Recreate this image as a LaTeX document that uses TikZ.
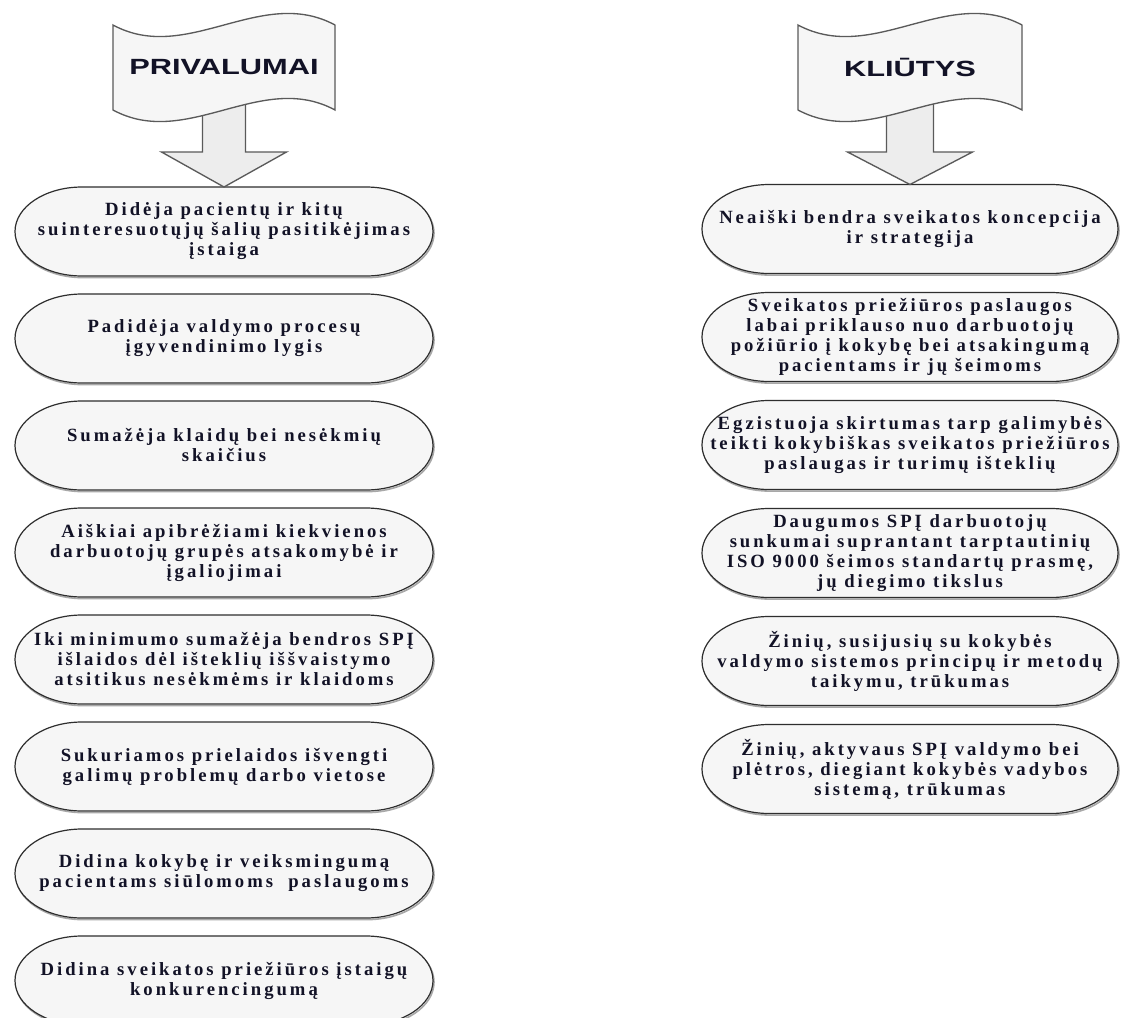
\documentclass[tikz,border=0pt]{standalone}
\usepackage{fontspec}
\setmainfont{Liberation Serif}
\newfontfamily\bodyfont{Liberation Serif}[LetterSpace=16]
\newfontfamily\headfont{Liberation Sans}
\usetikzlibrary{backgrounds}

\definecolor{boxfill}{HTML}{F6F6F6}
\definecolor{boxline}{HTML}{2E2E2E}
\definecolor{boxshade}{HTML}{A8A8A8}
\definecolor{arrowfill}{HTML}{EDEDED}
\definecolor{arrowline}{HTML}{5A5A5A}
\definecolor{inktext}{HTML}{121226}

\tikzset{
  item/.style={rectangle, inner sep=0pt, outer sep=0pt,
    minimum width=313.5pt, minimum height=66.75pt, align=center,
    font=\bodyfont\bfseries\fontsize{14}{15}\selectfont, text=inktext},
  itemr/.style={item, minimum width=312pt},
  termline/.style={draw=boxline, line width=0.9pt, fill=boxfill},
  termshade/.style={draw=boxshade, line width=1.2pt},
  banner/.style={draw=arrowline, line width=1pt, fill=boxfill},
  bigarrow/.style={draw=arrowline, line width=1pt, fill=arrowfill, line join=miter},
  headtext/.style={font=\headfont\bfseries\fontsize{16.5}{18}\selectfont, text=inktext},
}

% flowchart terminator outline around a named node
\newcommand{\terminator}[1]{%
  \draw[termshade] ([xshift=51pt,yshift=-1.2pt]#1.north west) -- ([xshift=-49.5pt,yshift=-1.2pt]#1.north east)
    arc[start angle=90, end angle=-90, x radius=50.25pt, y radius=33.375pt]
    -- ([xshift=51pt,yshift=-1.2pt]#1.south west)
    arc[start angle=270, end angle=90, x radius=50.25pt, y radius=33.375pt] -- cycle;
  \draw[termline] ([xshift=50.25pt]#1.north west) -- ([xshift=-50.25pt]#1.north east)
    arc[start angle=90, end angle=-90, x radius=50.25pt, y radius=33.375pt]
    -- ([xshift=50.25pt]#1.south west)
    arc[start angle=270, end angle=90, x radius=50.25pt, y radius=33.375pt] -- cycle;}

\begin{document}
\begin{tikzpicture}[x=0.75pt, y=-0.75pt]
  \useasboundingbox (0,0) rectangle (1129,1018);

  % ---- advantages column ----
  \node[item] (l1) at (224,231.5) {Didėja pacientų ir kitų\\suinteresuotųjų šalių pasitikėjimas\\įstaiga};
  \node[item] (l2) at (224,338.5) {Padidėja valdymo procesų\\įgyvendinimo lygis};
  \node[item] (l3) at (224,445.5) {Sumažėja klaidų bei nesėkmių\\skaičius};
  \node[item] (l4) at (224,552.5) {Aiškiai apibrėžiami kiekvienos\\darbuotojų grupės atsakomybė ir\\įgaliojimai};
  \node[item] (l5) at (224,659.5) {Iki minimumo sumažėja bendros SPĮ\\išlaidos dėl išteklių iššvaistymo\\atsitikus nesėkmėms ir klaidoms};
  \node[item] (l6) at (224,766.5) {Sukuriamos prielaidos išvengti\\galimų problemų darbo vietose};
  \node[item] (l7) at (224,873.5) {Didina kokybę ir veiksmingumą\\pacientams siūlomoms\ \ paslaugoms};
  \node[item] (l8) at (224,980.5) {Didina sveikatos priežiūros įstaigų\\konkurencingumą};

  % ---- obstacles column ----
  \node[itemr] (r1) at (910,229) {Neaiški bendra sveikatos koncepcija\\ir strategija};
  \node[itemr] (r2) at (910,337) {Sveikatos priežiūros paslaugos\\labai priklauso nuo darbuotojų\\požiūrio į kokybę bei atsakingumą\\pacientams ir jų šeimoms};
  \node[itemr] (r3) at (910,445) {Egzistuoja skirtumas tarp galimybės\\teikti kokybiškas sveikatos priežiūros\\paslaugas ir turimų išteklių};
  \node[itemr] (r4) at (910,553) {Daugumos SPĮ darbuotojų\\sunkumai suprantant tarptautinių\\ISO 9000 šeimos standartų prasmę,\\jų diegimo tikslus};
  \node[itemr] (r5) at (910,661) {Žinių, susijusių su kokybės\\valdymo sistemos principų ir metodų\\taikymu, trūkumas};
  \node[itemr] (r6) at (910,769) {Žinių, aktyvaus SPĮ valdymo bei\\plėtros, diegiant kokybės vadybos\\sistemą, trūkumas};

  \node[headtext] (privalumai) at (224,67) {\scalebox{1.4}[1]{PRIVALUMAI}};
  \node[headtext] (kliutys) at (910,67) {\scalebox{1.4}[1]{KLIŪTYS}};

  \begin{pgfonlayer}{background}
    \clip (0,0) rectangle (1129,1018);
    \fill[white] (0,0) rectangle (1129,1018);
    \foreach \n in {l1,l2,l3,l4,l5,l6,l7,l8,r1,r2,r3,r4,r5,r6} {\terminator{\n}}

    % downward block arrows, each leaving its banner
    \draw[bigarrow] ([xshift=-16.125pt]privalumai.center |- 0,100) -- ([xshift=16.125pt]privalumai.center |- 0,100)
      -- ([xshift=16.125pt]privalumai.center |- 0,152) -- ([xshift=46.875pt]privalumai.center |- 0,152)
      -- (l1.north) -- ([xshift=-46.875pt]privalumai.center |- 0,152)
      -- ([xshift=-16.125pt]privalumai.center |- 0,152) -- cycle;
    \draw[bigarrow] ([xshift=-17.625pt]kliutys.center |- 0,100) -- ([xshift=17.625pt]kliutys.center |- 0,100)
      -- ([xshift=17.625pt]kliutys.center |- 0,152) -- ([xshift=46.875pt]kliutys.center |- 0,152)
      -- (r1.north) -- ([xshift=-46.875pt]kliutys.center |- 0,152)
      -- ([xshift=-17.625pt]kliutys.center |- 0,152) -- cycle;

    % wavy banners
    \draw[banner] (113,25) .. controls (187,65) and (261,-15) .. (335,25)
      -- (335,110) .. controls (261,70) and (187,150) .. (113,110) -- cycle;
    \draw[banner] (798,25) .. controls (873,65) and (947,-15) .. (1022,25)
      -- (1022,110) .. controls (947,70) and (873,150) .. (798,110) -- cycle;
  \end{pgfonlayer}
\end{tikzpicture}
\end{document}
